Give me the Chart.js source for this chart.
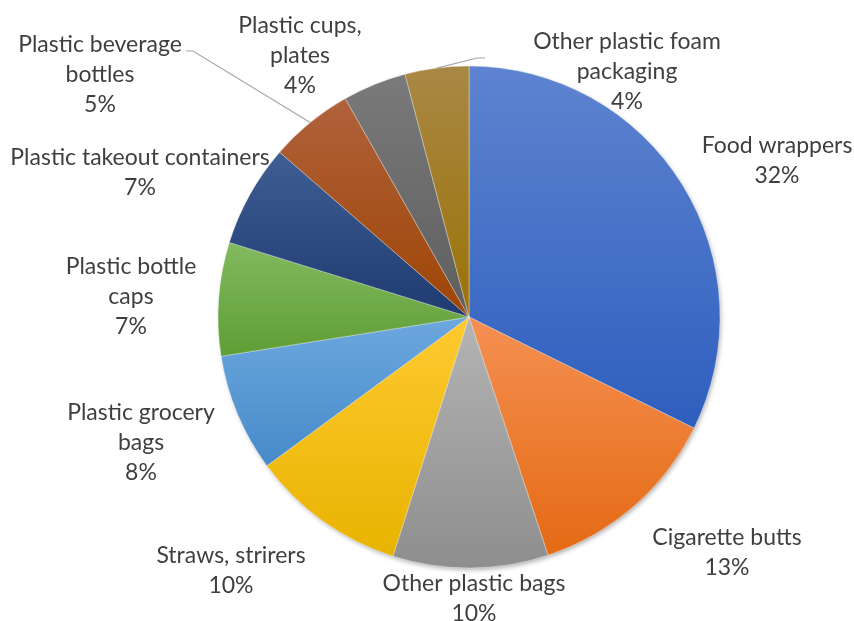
<!DOCTYPE html>
<html><head><meta charset="utf-8">
<script src="https://cdn.jsdelivr.net/npm/chart.js@4/dist/chart.umd.min.js"></script>
<style>html,body{margin:0;padding:0;background:#fff}#wrap{width:854px;height:621px;position:relative}</style>
</head><body><div id="wrap"><canvas id="c"></canvas></div>
<script>
// ---- data ----
const categories = ["Food wrappers","Cigarette butts","Other plastic bags","Straws, strirers","Plastic grocery bags","Plastic bottle caps","Plastic takeout containers","Plastic beverage bottles","Plastic cups, plates","Other plastic foam packaging"];
const shares = [32.3, 12.6, 10.0, 10.0, 7.6, 7.3, 6.6, 5.4, 4.1, 4.1];
// ---- label wrapping (as in the original) ----
const labelLines = [["Food wrappers"],["Cigarette butts"],["Other plastic bags"],["Straws, strirers"],["Plastic grocery","bags"],["Plastic bottle","caps"],["Plastic takeout containers"],["Plastic beverage","bottles"],["Plastic cups,","plates"],["Other plastic foam","packaging"]];
// ---- styles ----
const topColors    = ["#5E84D0","#F59052","#B4B4B4","#FFCA30","#6DA8DE","#82BA5E","#3E5E94","#B0623C","#7A7A7A","#A88845"];
const bottomColors = ["#2E5EBE","#E46A14","#8E8E8E","#E8B300","#468AC9","#5F9D35","#1F3B70","#9E4404","#5E5E5E","#9C7206"];
const PIE_R = 251;
// label first-baseline centre, relative to pie centre
const labelPos = [[308,-164],[258,228],[5,274],[-238,246],[-328,103],[-338,-43],[-329,-152],[-369,-265],[-169,-284],[158,-268]];
// leader lines: label-side points relative to pie centre (index -> points)
const leaders = {7: [[-283,-266],[-276,-266]], 9: [[16,-259],[8,-259]]};
const FONT = '23px Lato, "Liberation Sans", sans-serif';
const LINE_H = 30;

const total = shares.reduce((a,b)=>a+b,0);

function sectorYRange(cy, r, a0, a1){
  let ys=[cy, cy+r*Math.sin(a0), cy+r*Math.sin(a1)];
  for(let k=-2;k<=3;k++){
    const d=Math.PI/2+k*Math.PI;
    if(d>a0 && d<a1) ys.push(cy+r*Math.sin(d));
  }
  return [Math.min(...ys), Math.max(...ys)];
}

function bg(ctx){
  const chart=ctx.chart, ca=chart.chartArea;
  const i=ctx.dataIndex;
  if(!ca) return topColors[i];
  const cx=(ca.left+ca.right)/2, cy=(ca.top+ca.bottom)/2;
  let cum=0; for(let k=0;k<i;k++) cum+=shares[k];
  const a0=-Math.PI/2+cum/total*2*Math.PI;
  const a1=-Math.PI/2+(cum+shares[i])/total*2*Math.PI;
  const [y0,y1]=sectorYRange(cy,PIE_R,a0,a1);
  const g=chart.ctx.createLinearGradient(0,y0,0,y1);
  g.addColorStop(0,topColors[i]);
  g.addColorStop(1,bottomColors[i]);
  return g;
}

const shadowPlugin={
  id:'pieShadow',
  beforeDatasetsDraw(chart){
    const arc=chart.getDatasetMeta(0).data[0]; if(!arc) return;
    const c=chart.ctx; c.save();
    c.shadowColor='rgba(0,0,0,0.35)'; c.shadowBlur=5; c.shadowOffsetX=1.5; c.shadowOffsetY=2.5;
    c.fillStyle='#888'; c.beginPath(); c.arc(arc.x,arc.y,arc.outerRadius-1,0,Math.PI*2); c.fill();
    c.restore();
  }
};

const labelPlugin={
  id:'outLabels',
  afterDatasetsDraw(chart){
    const meta=chart.getDatasetMeta(0); const c=chart.ctx;
    c.save();
    meta.data.forEach((arc,i)=>{
      const cx=arc.x, cy=arc.y;
      if(leaders[i]){
        const mid=(arc.startAngle+arc.endAngle)/2;
        const ex=cx+arc.outerRadius*Math.cos(mid), ey=cy+arc.outerRadius*Math.sin(mid);
        c.strokeStyle='#A6A6A6'; c.lineWidth=1.2; c.beginPath();
        const pts=leaders[i];
        c.moveTo(cx+pts[0][0],cy+pts[0][1]);
        for(let k=1;k<pts.length;k++) c.lineTo(cx+pts[k][0],cy+pts[k][1]);
        c.lineTo(ex,ey); c.stroke();
      }
      const lines=labelLines[i].concat([Math.round(shares[i]/total*100)+'%']);
      c.font=FONT; c.fillStyle='#3F3F3F'; c.textAlign='center'; c.textBaseline='alphabetic';
      lines.forEach((t,k)=>c.fillText(t,cx+labelPos[i][0],cy+labelPos[i][1]+k*LINE_H));
    });
    c.restore();
  }
};

new Chart(document.getElementById('c'),{
  type:'pie',
  data:{labels:categories,datasets:[{data:shares,backgroundColor:bg,borderColor:'rgba(255,255,255,0.35)',borderWidth:1}]},
  options:{
    responsive:true, maintainAspectRatio:false, animation:false,
    radius:PIE_R,
    layout:{padding:{left:84,right:0,top:13,bottom:0}},
    plugins:{legend:{display:false},tooltip:{enabled:false}}
  },
  plugins:[shadowPlugin,labelPlugin]
});
</script></body></html>
